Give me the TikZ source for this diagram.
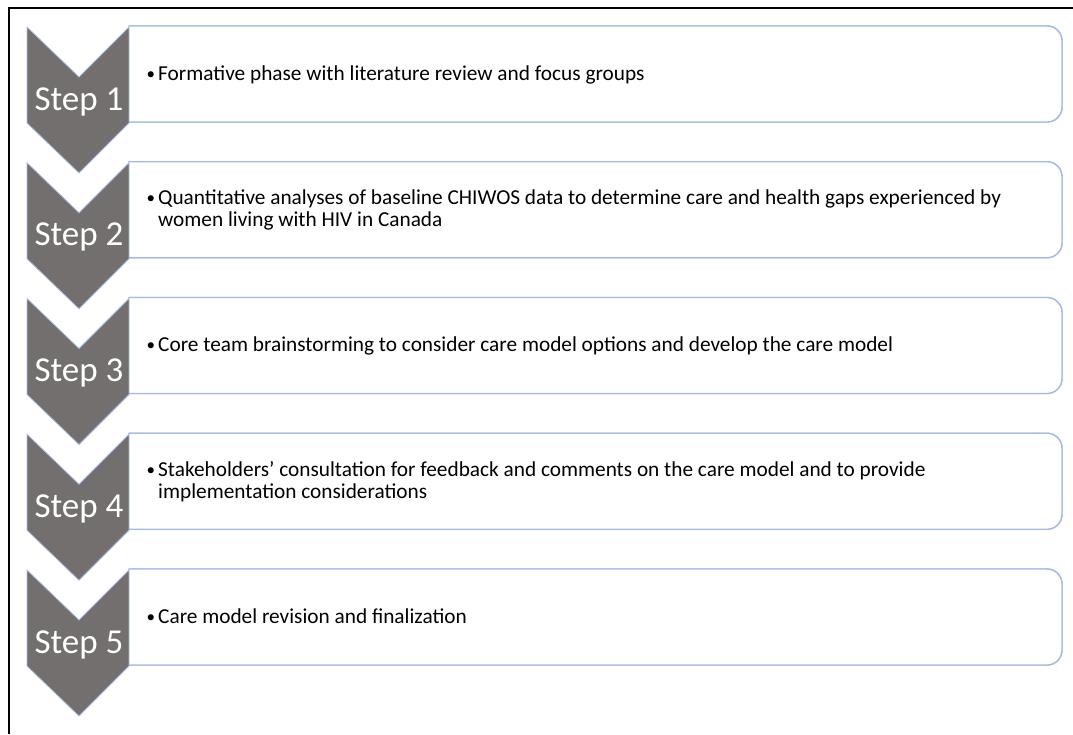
\documentclass[tikz,border=0pt]{standalone}
\usepackage{fontspec}
\usepackage{graphicx}
\setmainfont{Carlito}
\definecolor{chevgray}{HTML}{736F6F}
\definecolor{chevedge}{HTML}{A8BDE3}
\definecolor{boxedge}{HTML}{A3BBE6}
\newcommand{\bodyfont}{\fontsize{21.3}{22}\selectfont}
\newcommand{\stepfont}{\fontsize{35}{40}\selectfont}
% bullet item: wrapped lines line up under the first word
\newcommand{\smallbullet}{\raisebox{0.9pt}{\scalebox{0.8}{\textbullet}}}
\newcommand{\bitem}[1]{\begin{tabular}[t]{@{}l@{}l@{}}\makebox[14pt][l]{\hspace{2.5pt}\smallbullet} & #1\end{tabular}}
\tikzset{
  chevron/.style={fill=chevgray, draw=chevedge, line width=0.8pt, line join=miter},
  stepbox/.style={draw=boxedge, line width=1.4pt, fill=white},
  steplabel/.style={text=white, font=\stepfont, anchor=base, inner sep=0pt},
  itemtext/.style={anchor=base west, inner sep=0pt, font=\bodyfont},
}
\begin{document}
\begin{tikzpicture}[x=1pt, y=-1pt]
  \useasboundingbox (0,0) rectangle (1073,734);
  \fill[white] (0,0) rectangle (1073,734);
  % outer frame (open on the right and bottom)
  \draw[black, line width=2.2pt] (9,734) -- (9,8) -- (1073,8);

  \foreach \k/\up/\txt in {
    1/0/{Formative phase with literature review and focus groups},
    2/11/{Quantitative analyses of baseline CHIWOS data to determine care and health gaps experienced by\\ & women living with HIV in Canada},
    3/0/{Core team brainstorming to consider care model options and develop the care model},
    4/11/{Stakeholders’ consultation for feedback and comments on the care model and to provide\\ & implementation considerations},
    5/0/{Care model revision and finalization}} {
    \pgfmathsetmacro{\yo}{26+135.75*(\k-1)}
    % rounded box, square on the chevron side
    \path[stepbox] (129,\yo)
      [rounded corners=15pt] -- (1062,\yo) -- (1062,\yo+96)
      [rounded corners=0pt] -- (129,\yo+96) -- cycle;
    \draw[stepbox] (129,\yo)
      [rounded corners=15pt] -- (1062,\yo) -- (1062,\yo+96)
      [rounded corners=0pt] -- (129,\yo+96);
    % chevron
    \path[chevron] (27,\yo+1) -- (79,\yo+51) -- (129,\yo+1) -- (129,\yo+97)
      -- (79,\yo+147) -- (27,\yo+97) -- cycle;
    \node[steplabel] (s\k) at (79,\yo+84) {Step \k};
    \node[itemtext] (t\k) at (144,\yo+54-\up) {\bitem{\txt}};
  }
\end{tikzpicture}
\end{document}
